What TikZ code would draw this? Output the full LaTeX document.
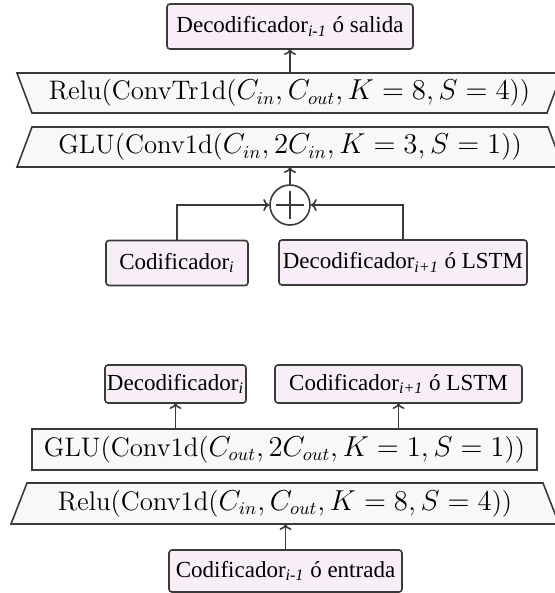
\documentclass[tikz,border=0pt]{standalone}
\usepackage{fontspec}
\newfontfamily\tnr{Liberation Serif}
\usetikzlibrary{backgrounds,calc,arrows.meta}
\definecolor{boxfill}{HTML}{F7EEF7}
\definecolor{trapfill}{HTML}{F8F8F8}
\definecolor{edgec}{HTML}{3A3A3A}
\begin{document}
\begin{tikzpicture}[x=0.5pt,y=-0.5pt,
  lbl/.style={draw=edgec, line width=0.8pt, fill=boxfill, rounded corners=1.5pt, inner sep=0pt, outer sep=0pt, font=\tnr\fontsize{11.5}{13}\selectfont},
  layertext/.style={inner sep=0pt, outer sep=0pt, font=\fontsize{13.4}{16}\selectfont},
  trapbox/.style={draw=edgec, line width=0.8pt, fill=trapfill},
  arr/.style={-{To[length=3pt,width=6pt]}, draw=edgec, line width=0.8pt}]
\useasboundingbox (0,0) rectangle (554,593);
% ---------- top section ----------
\node[lbl, minimum width=123pt, minimum height=22.5pt] (out) at (290,26.5)
  {Decodificador\textsubscript{\itshape i-1} ó salida};
\node[layertext, minimum width=257.5pt, minimum height=20pt] (t1) at (289.5,93)
  {Relu(ConvTr1d($C_{in}, C_{out}, K = 8, S = 4$))};
\node[layertext, minimum width=258pt, minimum height=20pt] (t2) at (290,147)
  {GLU(Conv1d($C_{in}, 2C_{in}, K = 3, S = 1$))};
\node[circle, draw=edgec, line width=0.8pt, minimum size=20pt, inner sep=0pt] (sum) at (290,205) {};
\draw[edgec, line width=0.8pt] ($(sum.center)+(-14,0)$) -- ($(sum.center)+(14,0)$);
\draw[edgec, line width=0.8pt] ($(sum.center)+(0,-14)$) -- ($(sum.center)+(0,14)$);
\node[lbl, minimum width=71pt, minimum height=22.5pt] (enc) at (177,263)
  {\raisebox{-1.5pt}{Codificador\textsubscript{\itshape i}}};
\node[lbl, minimum width=124pt, minimum height=22.5pt] (decn) at (403,262.5)
  {Decodificador\textsubscript{\itshape i+1} ó LSTM};
\begin{pgfonlayer}{background}
\draw[trapbox] ($(t1.north west)+(-15,0)$) -- ($(t1.north east)+(15,0)$) -- (t1.south east) -- (t1.south west) -- cycle;
\draw[trapbox] (t2.north west) -- (t2.north east) -- ($(t2.south east)+(15,0)$) -- ($(t2.south west)+(-15,0)$) -- cycle;
\end{pgfonlayer}
\draw[arr] (out.south |- t1.north) -- (out.south);
\draw[arr] (sum.north) -- (sum.north |- t2.south);
\draw[arr] (enc.north) |- (sum.west);
\draw[arr] (decn.north) |- (sum.east);
% ---------- bottom section ----------
\node[lbl, minimum width=70.5pt, minimum height=19pt] (deci) at (175.5,384)
  {Decodificador\textsubscript{\itshape i}};
\node[lbl, minimum width=123.5pt, minimum height=19pt] (encn) at (398.5,384)
  {Codificador\textsubscript{\itshape i+1} ó LSTM};
\node[layertext, draw=edgec, line width=0.8pt, fill=trapfill, minimum width=252.5pt, minimum height=20.5pt] (glu) at (284.5,449.5)
  {GLU(Conv1d($C_{out}, 2C_{out}, K = 1, S = 1$))};
\node[layertext, minimum width=258pt, minimum height=20.5pt] (t3) at (285,503.5)
  {Relu(Conv1d($C_{in}, C_{out}, K = 8, S = 4$))};
\node[lbl, minimum width=116.5pt, minimum height=21pt] (inp) at (285.5,571)
  {Codificador\textsubscript{\itshape i-1} ó entrada};
\begin{pgfonlayer}{background}
\draw[trapbox] (t3.north west) -- (t3.north east) -- ($(t3.south east)+(16,0)$) -- ($(t3.south west)+(-16,0)$) -- cycle;
\end{pgfonlayer}
\draw[arr] (glu.north -| deci.south) -- (deci.south);
\draw[arr] (glu.north -| encn.south) -- (encn.south);
\draw[arr] (inp.north) -- (inp.north |- t3.south);
\end{tikzpicture}
\end{document}
